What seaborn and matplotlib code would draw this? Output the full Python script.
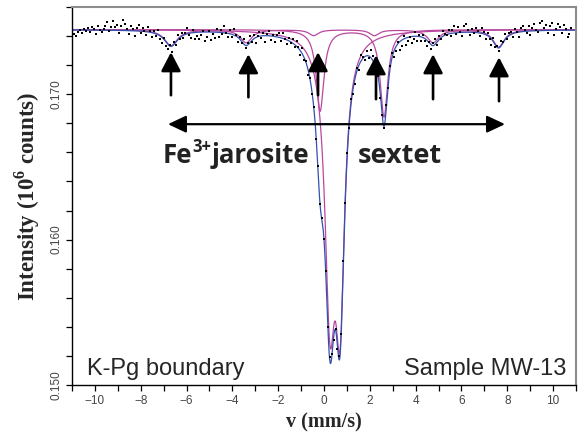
import numpy as np
import pandas as pd
import matplotlib
matplotlib.use("Agg")
import matplotlib.pyplot as plt
import seaborn as sns

# Measured channels: velocity range (mm/s) and intensity (units of 1e-5 x 10^6 counts)
V_START, V_END, N_CH = -10.9, 10.8, 256
intensity_1e5 = [
    17417, 17402, 17427, 17442, 17422, 17452, 17436, 17456, 17431, 17461, 17446, 17411, 17466, 17441, 17426, 17450,
    17470, 17495, 17435, 17465, 17505, 17459, 17479, 17424, 17469, 17513, 17483, 17448, 17412, 17472, 17451, 17401,
    17455, 17474, 17424, 17457, 17436, 17410, 17463, 17436, 17393, 17434, 17400, 17439, 17381, 17355, 17387,
    17335, 17313, 17336, 17290, 17360, 17342, 17408, 17382, 17422, 17385,
    17421, 17456, 17409, 17387, 17439, 17380, 17401, 17377, 17407, 17438,
    17368, 17393, 17433, 17373, 17413, 17387, 17447, 17396, 17440, 17414,
    17467, 17420, 17393, 17440, 17396, 17446, 17404, 17359, 17396, 17355,
    17379, 17315, 17350, 17398, 17359, 17406, 17354, 17400, 17429, 17386,
    17422, 17358, 17412, 17437, 17375, 17404, 17357, 17410, 17421, 17368,
    17424, 17379, 17344, 17388, 17351, 17377, 17322, 17365, 17326, 17273,
    17316, 17233, 17232, 17134, 17113, 16999, 16912, 16694, 16508, 16247,
    16152, 16007, 15786, 15398, 15190, 15214, 15308, 15388, 15251, 15198,
    15351, 15852, 16253, 16594, 16767, 16967, 17003, 17069, 17181, 17169,
    17272, 17256, 17234, 17300, 17248, 17303, 17260, 17199, 17203, 17124,
    16976, 16856, 16767, 16923, 17041, 17194, 17287, 17253, 17297, 17358,
    17307, 17332, 17400, 17336, 17366, 17394, 17352, 17383, 17429, 17364,
    17407, 17369, 17409, 17366, 17330, 17360, 17311, 17349, 17377, 17338,
    17399, 17378, 17438, 17415, 17406, 17445, 17403, 17440, 17467, 17413,
    17459, 17430, 17401, 17466, 17486, 17441, 17406, 17451, 17420, 17454,
    17433, 17401, 17453, 17430, 17380, 17423, 17383, 17339, 17385, 17324,
    17332, 17294, 17364, 17361, 17416, 17381, 17423, 17426, 17397, 17451,
    17430, 17392, 17454, 17471, 17442, 17418, 17469, 17405, 17456, 17481,
    17442, 17427, 17493, 17503, 17458, 17479, 17424, 17469, 17489, 17405,
    17450, 17485, 17465, 17420, 17475, 17446, 17391, 17411, 17456]

# Fitted Lorentzian sub-spectra (position mm/s, depth, FWHM mm/s)
BASELINE = 0.17445
central_pos = [0.26, 0.70]
central_depth = [0.0178, 0.0172]
central_fwhm = [0.54, 0.48]
fe2_pos = [-0.17, 2.62]
fe2_depth = [0.0056, 0.0060]
fe2_fwhm = [0.40, 0.40]
sext_pos = [-6.68, -3.40, -0.45, 2.20, 4.76, 7.62]
sext_depth = [0.0011, 0.0009, 0.0004, 0.0004, 0.0009, 0.0012]
sext_fwhm = [0.7, 0.6, 0.5, 0.5, 0.6, 0.6]

# Annotation arrows marking the jarosite sextet lines
arrow_v = [-6.68, -3.30, -0.26, 2.27, 4.76, 7.64]
arrow_tip = [0.17289, 0.17275, 0.17289, 0.17268, 0.17275, 0.17254]
arrow_tail = [0.16993, 0.16979, 0.16993, 0.16966, 0.16966, 0.16952]


def lor(v, pos, depth, fwhm):
    out = np.zeros_like(v)
    for p, d, w in zip(pos, depth, fwhm):
        out += d / (1 + ((v - p) / (w / 2)) ** 2)
    return out


sns.set_style("ticks")
plt.rcParams['mathtext.fontset'] = 'custom'
plt.rcParams['mathtext.rm'] = 'Liberation Serif:bold'
plt.rcParams['mathtext.bf'] = 'Liberation Serif:bold'

fig = plt.figure(figsize=(5.8, 4.34), dpi=100)
ax = fig.add_axes([72 / 580, 49 / 434, 504 / 580, 378 / 434])

vf = np.linspace(-11, 11, 3000)
d_central = lor(vf, central_pos, central_depth, central_fwhm)
d_fe2 = lor(vf, fe2_pos, fe2_depth, fe2_fwhm)
d_sext = lor(vf, sext_pos, sext_depth, sext_fwhm)
curves = pd.concat([
    pd.DataFrame({"v": vf, "I": BASELINE - d_sext, "c": "sextet"}),
    pd.DataFrame({"v": vf, "I": BASELINE - d_fe2, "c": "fe2"}),
    pd.DataFrame({"v": vf, "I": BASELINE - d_central, "c": "central"}),
    pd.DataFrame({"v": vf, "I": BASELINE - (d_central + d_fe2 + d_sext), "c": "total"}),
])

magenta = "#b8489f"
blue = "#3452ad"
sns.lineplot(data=curves, x="v", y="I", hue="c",
             palette={"sextet": magenta, "fe2": magenta, "central": magenta, "total": blue},
             hue_order=["sextet", "fe2", "central", "total"],
             ax=ax, linewidth=0.9, estimator=None, sort=False, legend=False)

data = pd.DataFrame({"v": np.linspace(V_START, V_END, N_CH),
                     "I": np.array(intensity_1e5) * 1e-5})
sns.scatterplot(data=data, x="v", y="I", ax=ax, color='k', s=2.5, marker='s', linewidth=0, zorder=5)

ax.set_xlim(-11, 11)
ax.set_ylim(0.150, 0.176)
ax.set_xticks(range(-10, 11, 2))
ax.set_xticks(range(-11, 12, 2), minor=True)
ax.set_yticks([0.150, 0.160, 0.170])
ax.set_yticklabels(["0.150", "0.160", "0.170"], rotation=90, va='center')
ax.set_yticks(np.arange(0.150, 0.1761, 0.002), minor=True)
ax.tick_params(which='both', direction='out', length=4, width=0.9, colors='k',
               labelcolor='#444444', labelsize=8.5, pad=3)
for lab in ax.get_xticklabels() + ax.get_yticklabels():
    lab.set_fontfamily('Liberation Sans')
for s in ['left', 'bottom']:
    ax.spines[s].set_color('k')
    ax.spines[s].set_linewidth(1.0)
for s in ['top', 'right']:
    ax.spines[s].set_color('#8c8c8c')
    ax.spines[s].set_linewidth(1.5)

ax.set_xlabel("v (mm/s)", fontfamily='Liberation Serif', fontweight='bold', fontsize=14.5, labelpad=4)
ax.set_ylabel(r"Intensity (10$^{6}$ counts)", fontfamily='Liberation Serif', fontweight='bold',
              fontsize=16.5, labelpad=6)

for v, t0, t1 in zip(arrow_v, arrow_tip, arrow_tail):
    ax.annotate("", xy=(v, t0), xytext=(v, t1),
                arrowprops=dict(arrowstyle="-|>,head_length=1.15,head_width=0.6",
                                lw=1.9, color='k', shrinkA=0, shrinkB=0), zorder=6)
ax.annotate("", xy=(-6.81, 0.16794), xytext=(7.90, 0.16794),
            arrowprops=dict(arrowstyle="<|-|>,head_length=1.1,head_width=0.52",
                            lw=1.6, color='k', shrinkA=0, shrinkB=0), zorder=6)

tf = dict(fontfamily='Open Sans', fontweight='bold', color='#222222')
t1 = ax.text(-7.03, 0.16526, "Fe", fontsize=18.5, va='baseline', ha='left', **tf)
t2 = ax.annotate("3+", xy=(1, 0.5), xycoords=t1, fontsize=12, va='bottom', ha='left', **tf)
t3 = ax.annotate("jarosite", xy=(1, 0), xycoords=(t2, t1), fontsize=18.5, va='bottom', ha='left', **tf)
ax.text(1.48, 0.16526, "sextet", fontsize=19.5, va='baseline', ha='left', **tf)

ax.text(-10.35, 0.15069, "K-Pg boundary", fontfamily='Liberation Sans', fontsize=17, va='baseline', ha='left')
ax.text(10.57, 0.15069, "Sample MW-13", fontfamily='Liberation Sans', fontsize=17, va='baseline', ha='right')

fig.savefig("out.png", dpi=100)
